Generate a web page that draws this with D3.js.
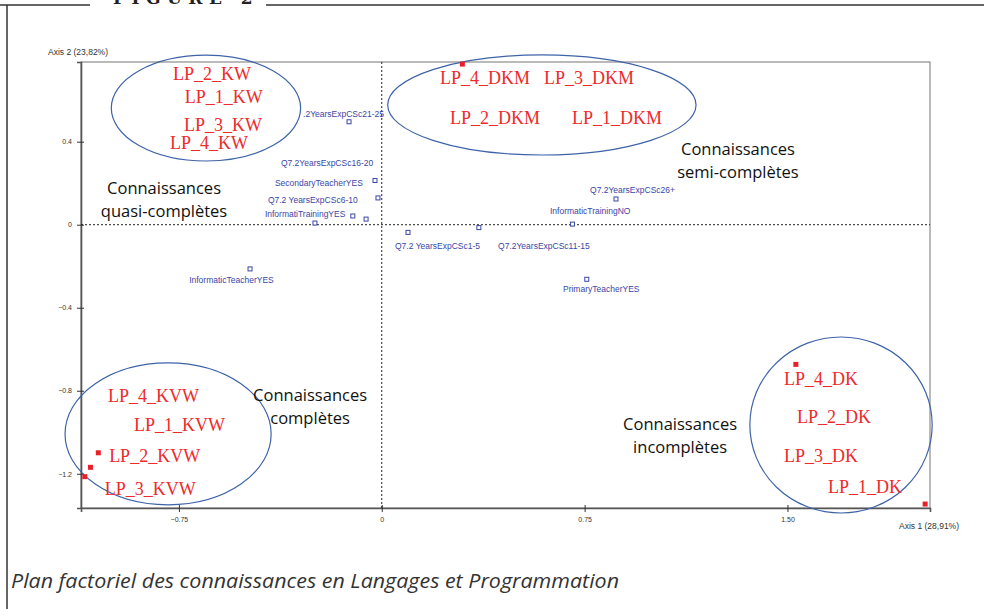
<!DOCTYPE html>
<html>
<head>
<meta charset="utf-8">
<script src="https://cdn.jsdelivr.net/npm/d3@7"></script>
<style>
  body { margin: 0; background: #fff; }
  svg { display: block; }
  .tick text { font-family: "Liberation Sans", Arial, sans-serif; font-size: 7px; fill: #333; }
</style>
</head>
<body>
<div id="chart"></div>
<script>
// factor map data (axis units)
var xTicks = [-0.75, 0, 0.75, 1.50];
var yTicks = [0.4, 0, -0.4, -0.8, -1.2];

// supplementary modalities (blue squares)
var blueX = [-0.121, -0.025, -0.014, -0.107, -0.058, -0.247, 0.097, 0.359, 0.705, 0.866, 0.758, -0.487];
var blueY = [0.496, 0.213, 0.129, 0.042, 0.027, 0.008, -0.037, -0.014, 0.003, 0.124, -0.263, -0.213];

// blue labels
var blueNames = [".2YearsExpCSc21-25", "Q7.2YearsExpCSc16-20", "SecondaryTeacherYES", "Q7.2 YearsExpCSc6-10",
    "InformatiTrainingYES", "Q7.2 YearsExpCSc1-5", "Q7.2YearsExpCSc11-15", "InformaticTrainingNO",
    "Q7.2YearsExpCSc26+", "PrimaryTeacherYES", "InformaticTeacherYES"];
var blueLabelX = [-0.291, -0.373, -0.395, -0.421, -0.432, 0.049, 0.430, 0.622, 0.770, 0.670, -0.712];
var blueLabelY = [0.519, 0.283, 0.187, 0.105, 0.037, -0.117, -0.117, 0.052, 0.153, -0.324, -0.281];

// active modalities (red squares)
var redX = [0.298, 1.531, 2.009, -1.048, -1.077, -1.098];
var redY = [0.774, -0.673, -1.346, -1.099, -1.169, -1.214];

// red labels
var redNames = ["LP_2_KW", "LP_1_KW", "LP_3_KW", "LP_4_KW",
    "LP_4_DKM", "LP_3_DKM", "LP_2_DKM", "LP_1_DKM",
    "LP_4_KVW", "LP_1_KVW", "LP_2_KVW", "LP_3_KVW",
    "LP_4_DK", "LP_2_DK", "LP_3_DK", "LP_1_DK"];
var redLabelX = [-0.772, -0.728, -0.731, -0.783, 0.215, 0.600, 0.252, 0.703,
    -1.012, -0.916, -1.008, -1.024, 1.487, 1.535, 1.487, 1.650];
var redLabelY = [0.697, 0.586, 0.452, 0.365, 0.678, 0.678, 0.485, 0.485,
    -0.855, -0.994, -1.144, -1.303, -0.772, -0.956, -1.144, -1.293];

// groups (ellipses + captions)
var groupLine1 = ["Connaissances", "Connaissances", "Connaissances", "Connaissances"];
var groupLine2 = ["quasi-complètes", "semi-complètes", "complètes", "incomplètes"];
var groupTextX = [-0.805, 1.317, -0.265, 1.103];
var groupTextY = [0.148, 0.336, -0.850, -0.989];
var ellCx = [-0.650, 0.592, -0.790, 1.698];
var ellCy = [0.562, 0.577, -1.008, -0.965];
var ellRx = [0.350, 0.570, 0.381, 0.337];
var ellRy = [0.255, 0.241, 0.342, 0.424];

var svgWidth = 984;
var svgHeight = 609;

var plot = { left: 81, right: 930, top: 62, bottom: 508 };

var svg = d3.select("#chart")
    .append("svg")
    .attr("width", svgWidth)
    .attr("height", svgHeight);

// figure frame
svg.append("line").attr("x1", 0).attr("x2", 90).attr("y1", 5).attr("y2", 5)
    .attr("stroke", "#333").attr("stroke-width", 1.5);
svg.append("line").attr("x1", 266).attr("x2", svgWidth).attr("y1", 5).attr("y2", 5)
    .attr("stroke", "#333").attr("stroke-width", 1.5);
svg.append("line").attr("x1", 7).attr("x2", 7).attr("y1", 5).attr("y2", svgHeight)
    .attr("stroke", "#333").attr("stroke-width", 1.5);
// figure title, cropped at the top edge like the scan
svg.append("text")
    .attr("x", 113).attr("y", 4)
    .style("font-family", "'DejaVu Serif', serif")
    .style("font-size", "17px")
    .style("font-weight", "bold")
    .style("letter-spacing", "6.5px")
    .attr("fill", "#222")
    .text("FIGURE 2");

// scales
var x = d3.scaleLinear().domain([-1.112, 2.027]).range([plot.left, plot.right]);
var y = d3.scaleLinear().domain([0.784, -1.365]).range([plot.top, plot.bottom]);

// plot frame
svg.append("rect")
    .attr("x", plot.left).attr("y", plot.top)
    .attr("width", plot.right - plot.left).attr("height", plot.bottom - plot.top)
    .attr("fill", "none").attr("stroke", "#777").attr("stroke-width", 1);

// axes
var bottomAxis = d3.axisBottom(x).tickValues(xTicks)
    .tickFormat(d => d === 0 ? "0" : (d === 1.5 ? "1.50" : d3.format(".2f")(d)))
    .tickSize(4).tickPadding(5);
var leftAxis = d3.axisLeft(y).tickValues(yTicks)
    .tickFormat(d => d === 0 ? "0" : d3.format(".1f")(d))
    .tickSize(4).tickPadding(5);

var xAxis = svg.append("g")
    .attr("transform", `translate(0, ${plot.bottom})`)
    .call(bottomAxis);
var yAxis = svg.append("g")
    .attr("transform", `translate(${plot.left}, 0)`)
    .call(leftAxis);
[xAxis, yAxis].forEach(function(g) {
    g.select(".domain").attr("stroke", "#555").attr("stroke-width", 1.6);
    g.selectAll(".tick line").attr("stroke", "#333");
});
// little inner part of ticks
xAxis.selectAll(".tick").append("line").attr("y1", 0).attr("y2", -3).attr("stroke", "#333");
yAxis.selectAll(".tick").append("line").attr("x1", 0).attr("x2", 3).attr("stroke", "#333");

// zero lines
svg.append("line")
    .attr("x1", plot.left).attr("x2", plot.right)
    .attr("y1", y(0)).attr("y2", y(0))
    .attr("stroke", "#222").attr("stroke-width", 1).attr("stroke-dasharray", "2,2");
svg.append("line")
    .attr("x1", x(0)).attr("x2", x(0))
    .attr("y1", plot.top).attr("y2", plot.bottom)
    .attr("stroke", "#222").attr("stroke-width", 1).attr("stroke-dasharray", "2,2");

// axis titles
svg.append("text")
    .attr("x", 48).attr("y", 55)
    .style("font-family", "'Liberation Sans', Arial, sans-serif")
    .style("font-size", "8.5px").attr("fill", "#333")
    .text("Axis 2 (23,82%)");
svg.append("text")
    .attr("x", 959).attr("y", 529)
    .attr("text-anchor", "end")
    .style("font-family", "'Liberation Sans', Arial, sans-serif")
    .style("font-size", "8.5px").attr("fill", "#333")
    .text("Axis 1 (28,91%)");

// ellipses
svg.append("g").selectAll("ellipse")
    .data(ellCx)
    .enter()
    .append("ellipse")
    .attr("cx", d => x(d))
    .attr("cy", (d, i) => y(ellCy[i]))
    .attr("rx", (d, i) => x(ellRx[i]) - x(0))
    .attr("ry", (d, i) => y(0) - y(ellRy[i]))
    .attr("fill", "none")
    .attr("stroke", "#3e63a8")
    .attr("stroke-width", 1.2);

// blue squares
svg.append("g").selectAll("rect")
    .data(blueX)
    .enter()
    .append("rect")
    .attr("x", d => x(d) - 2)
    .attr("y", (d, i) => y(blueY[i]) - 2)
    .attr("width", 4).attr("height", 4)
    .attr("fill", "#fff")
    .attr("stroke", "#3a46a6")
    .attr("stroke-width", 1);

// blue labels
svg.append("g").selectAll("text")
    .data(blueNames)
    .enter()
    .append("text")
    .attr("x", (d, i) => x(blueLabelX[i]))
    .attr("y", (d, i) => y(blueLabelY[i]))
    .style("font-family", "'Liberation Sans', Arial, sans-serif")
    .style("font-size", "8.5px")
    .attr("fill", "#3a46a6")
    .text(d => d);

// red squares
svg.append("g").selectAll("rect")
    .data(redX)
    .enter()
    .append("rect")
    .attr("x", d => x(d) - 2.5)
    .attr("y", (d, i) => y(redY[i]) - 2.5)
    .attr("width", 5).attr("height", 5)
    .attr("fill", "#e8202a");

// red labels
svg.append("g").selectAll("text")
    .data(redNames)
    .enter()
    .append("text")
    .attr("x", (d, i) => x(redLabelX[i]))
    .attr("y", (d, i) => y(redLabelY[i]))
    .style("font-family", "'Liberation Serif', 'Times New Roman', serif")
    .style("font-size", "18px")
    .attr("fill", "#ee2a2a")
    .text(d => d);

// group captions
var groupText = svg.append("g").selectAll("text")
    .data(groupLine1)
    .enter()
    .append("text")
    .attr("x", (d, i) => x(groupTextX[i]))
    .attr("y", (d, i) => y(groupTextY[i]))
    .attr("text-anchor", "middle")
    .style("font-family", "'Open Sans', sans-serif")
    .style("font-size", "16.5px")
    .attr("fill", "#111");
groupText.append("tspan")
    .attr("x", (d, i) => x(groupTextX[i]))
    .text(d => d);
groupText.append("tspan")
    .attr("x", (d, i) => x(groupTextX[i]))
    .attr("dy", 23)
    .text((d, i) => groupLine2[i]);

// caption
svg.append("text")
    .attr("x", 11).attr("y", 588)
    .style("font-family", "'Open Sans', sans-serif")
    .style("font-size", "20px")
    .style("font-style", "italic")
    .attr("fill", "#333")
    .attr("textLength", 608)
    .attr("lengthAdjust", "spacingAndGlyphs")
    .text("Plan factoriel des connaissances en Langages et Programmation");
</script>
</body>
</html>
